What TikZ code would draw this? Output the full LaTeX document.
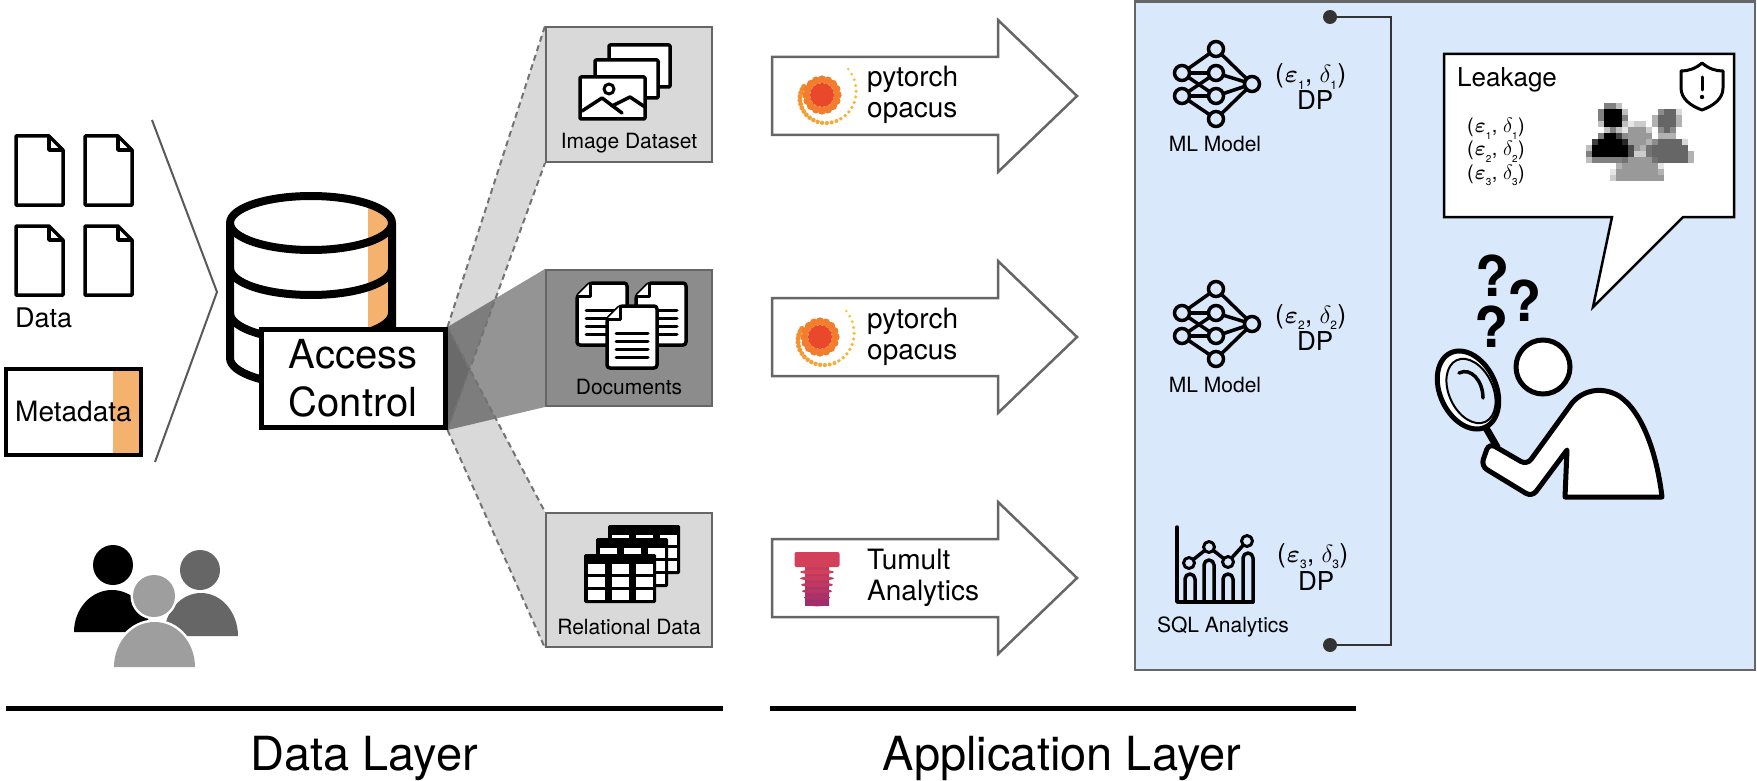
\documentclass[tikz,border=0pt]{standalone}
\usepackage{fontspec}
\setmainfont{TeX Gyre Heros}
\usepackage{bm}
\usetikzlibrary{calc}

\pgfdeclarelayer{canvas}
\pgfdeclarelayer{fans}
\pgfsetlayers{canvas,fans,main}

\definecolor{panelblue}{HTML}{DAE8FC}
\definecolor{metaorange}{HTML}{F4B26E}
\definecolor{edgegray}{HTML}{666666}
\definecolor{boxlight}{HTML}{D9D9D9}
\definecolor{boxdark}{HTML}{8C8C8C}
\definecolor{persondark}{HTML}{666666}
\definecolor{personlight}{HTML}{9E9E9E}
\definecolor{opred}{HTML}{E9482A}
\definecolor{opring}{HTML}{F27D2C}
\definecolor{opinner}{HTML}{F28A2E}
\definecolor{opyellow}{HTML}{F8CB40}
\definecolor{tumtop}{HTML}{D2405A}
\definecolor{tumbot}{HTML}{9A2C6E}
\definecolor{bracketgray}{HTML}{333333}

\newcommand\fsz[1]{\fontsize{#1}{#1}\selectfont}
% (epsilon, delta) pair with dropped subscripts; optional arg = subscript size
\newcommand\lowsub[2]{\raisebox{-3pt}{\fontsize{#1}{#1}\selectfont #2}}
\newcommand\epsdelta[2][12]{(\kern1pt$\bm{\varepsilon}_{\lowsub{#1}{#2}}$, $\delta_{\lowsub{#1}{#2}}$)}

\tikzset{
  datafile/.pic={
    \filldraw[fill=white, line width=3.5, line join=round]
      (0,0) -- (33,0) -- (47,14) -- (47,69) -- (0,69) -- cycle;
    \draw[line width=3.5, line join=round] (33,0) -- (33,14) -- (47,14);
  },
  docsheet/.pic={
    \filldraw[fill=white, line width=3.5, line join=round, rounded corners=3]
      (13,0) -- (50,0) -- (50,62) -- (0,62) -- (0,13) -- cycle;
    \filldraw[fill=white, line width=3, line join=round] (0,13) -- (13,13) -- (13,0);
    \foreach \yy in {27,35,43,51} \draw[line width=3, line cap=round] (9,\yy) -- (41,\yy);
  },
  tablecard/.pic={
    \fill[black, rounded corners=1.5] (0,0) rectangle (72,49);
    \foreach \cx in {4,28,52} \foreach \cy in {10,23,36}
      \fill[white] (\cx,\cy) rectangle ++(17,9.5);
  },
  bigarrow/.pic={
    \draw[draw=edgegray, line width=2.5, fill=white, line join=miter]
      (0,-39) -- (226,-39) -- (226,-76) -- (305,0) -- (226,76) -- (226,39) -- (0,39) -- cycle;
  },
  opacuslogo/.pic={
    \foreach \k in {0,...,26}{
      \pgfmathsetmacro\spa{205-9.6*\k}
      \pgfmathsetmacro\spr{20+0.65*\k}
      \pgfmathsetmacro\sps{2.7-0.045*\k}
      \pgfmathsetmacro\spm{100-3.7*\k}
      \fill[opinner!\spm!opyellow] (\spa:\spr) circle[radius=\sps];
    }
    \foreach \a in {0,22.5,...,337.5} \fill[opring] (\a:15.5) circle[radius=4.2];
    \fill[opred] (0,0) circle[radius=12];
  },
  tumultlogo/.pic={
    \shade[top color=tumtop!80!tumbot, bottom color=tumbot] (-12,14) rectangle (12,53);
    \foreach \k/\w in {0/17,1/17,2/16,3/15,4/13,5/11}{
      \pgfmathsetmacro\tmix{100-17*\k}
      \fill[tumtop!\tmix!tumbot] (0,20+6.4*\k) ellipse[x radius=\w, y radius=2.3];
    }
    \fill[tumtop, rounded corners=2] (-22.5,0) rectangle (22.5,15);
  },
  nnicon/.pic={
    \foreach \xa/\ya/\xb/\yb in {0/0/-34/24, 0/0/36/35, -34/24/0/24, -34/24/0/47,
        -34/47/0/24, -34/47/0/47, -34/47/0/70, 0/70/36/35, 0/24/36/35, 0/47/36/35}
      \draw[line width=3.5] (\xa,\ya) -- (\xb,\yb);
    \foreach \xa/\ya in {0/0,-34/24,-34/47,0/24,0/47,0/70,36/35}
      \filldraw[fill=panelblue, line width=3.5] (\xa,\ya) circle[radius=7.5];
  },
}

\begin{document}
\begin{tikzpicture}[x=1pt, y=-1pt,
  declare function={
    sqd(\p,\q)=(\p)*(\p)+(\q)*(\q);
    inbk(\p,\q)=or(sqd(\p-11.3,\q-56.5)<4.0,and(\q<63.2,sqd((\p-11.2)/3.8,(\q-63.2)/4.2)<1));
    indk(\p,\q)=or(sqd(\p-20.0,\q-57.0)<4.0,and(\q<63.6,sqd((\p-20.1)/3.7,(\q-63.6)/4.3)<1));
    inlt(\p,\q)=or(sqd(\p-15.4,\q-59.6)<4.41,and(\q<66.7,sqd((\p-15.45)/4.05,(\q-66.7)/4.5)<1));
    gv(\p,\q)=ifthenelse(inlt(\p,\q),0.6,ifthenelse(inbk(\p,\q),0,ifthenelse(indk(\p,\q),0.4,1)));
  },
  databox/.style={draw=edgegray, line width=2, minimum width=166, inner sep=0},
  boxlabel/.style={font=\fsz{21}, inner sep=0},
  fanlight/.style={fill=black, fill opacity=0.15},
  fandark/.style={fill=black, fill opacity=0.42},
  fanedge/.style={draw=black!55, line width=2, dash pattern=on 6pt off 4pt},
  tooltext/.style={font=\fsz{28}, anchor=base west, inner sep=0},
  dptext/.style={font=\fsz{26}, anchor=base west, inner sep=0},
  iconlabel/.style={font=\fsz{21}, anchor=base, inner sep=0},
  layerlabel/.style={font=\fsz{47}, anchor=base, inner sep=0},
]
\useasboundingbox (0,0) rectangle (1757,781);
\begin{pgfonlayer}{canvas}
  \fill[white] (0,0) rectangle (1757,781);
\end{pgfonlayer}

% ---------------- data sources ----------------
\foreach \dx/\dy in {16/136, 85/136, 16/226, 85/226}
  \pic at (\dx,\dy) {datafile};
\node[anchor=base west, inner sep=0, font=\fsz{27}] (datalbl) at (15,327) {Data};

\fill[white] (6,369) rectangle (141,455);
\fill[metaorange] (113,369) rectangle (141,455);
\node[draw, line width=4, minimum width=135, minimum height=86, inner sep=0] (meta) at (73.5,412) {};
\node[anchor=west, inner sep=0, font=\fsz{28}] (metalbl) at (15,412) {Metadata};

\draw[black!65, line width=2] (152,120) -- (217,292) -- (155,462);

% ---------------- database cylinder ----------------
\fill[white] (230,223) -- (230,358) arc[start angle=180, end angle=0, x radius=81, y radius=27]
  -- (392,223) arc[start angle=0, end angle=-180, x radius=81, y radius=27] -- cycle;
\begin{scope}
  \clip (230,223) -- (230,358) arc[start angle=180, end angle=0, x radius=81, y radius=27]
    -- (392,223) arc[start angle=0, end angle=-180, x radius=81, y radius=27] -- cycle;
  \fill[metaorange] (368,180) rectangle (400,400);
\end{scope}
\begin{scope}[line width=8, line join=round]
  \draw (230,223) -- (230,358) arc[start angle=180, end angle=0, x radius=81, y radius=27] -- (392,223);
  \draw (311,223) ellipse[x radius=81, y radius=27];
  \draw (230,268) arc[start angle=180, end angle=0, x radius=81, y radius=27];
  \draw (230,313) arc[start angle=180, end angle=0, x radius=81, y radius=27];
\end{scope}
\node[draw, line width=5, fill=white, minimum width=184, minimum height=98, inner sep=0,
  align=center, font=\fontsize{40}{48}\selectfont] (ac) at (353,378.5) {Access\\Control};

% ---------------- data stores ----------------
\node[databox, fill=boxlight, minimum height=135] (imgbox) at (629,94.5) {};
\node[databox, fill=boxdark, minimum height=136] (docbox) at (629,338) {};
\node[databox, fill=boxlight, minimum height=134] (relbox) at (629,580) {};

\begin{pgfonlayer}{fans}
  \fill[fanlight] (ac.north east) -- (imgbox.north west) -- (imgbox.south west) -- (ac.south east) -- cycle;
  \fill[fandark] (ac.north east) -- (docbox.north west) -- (docbox.south west) -- (ac.south east) -- cycle;
  \fill[fanlight] (ac.north east) -- (relbox.north west) -- (relbox.south west) -- (ac.south east) -- cycle;
  \draw[fanedge] (ac.north east) -- (imgbox.north west);
  \draw[fanedge] (ac.south east) -- (imgbox.south west);
  \draw[fanedge] (ac.north east) -- (relbox.north west);
  \draw[fanedge] (ac.south east) -- (relbox.south west);
\end{pgfonlayer}

% image stack icon
\begin{scope}[line width=3.5, line join=round, line cap=round]
  \filldraw[fill=white, rounded corners=1] (609,45) rectangle (670,87);
  \filldraw[fill=white, rounded corners=1] (595,60) rectangle (658,98);
  \filldraw[fill=white, rounded corners=1] (580,77) rectangle (645,119);
  \draw[line width=3] (609,89) circle[radius=5];
  \draw (582,111) -- (602,98) -- (622,113);
  \draw (612,106) -- (630,97) -- (645,107);
\end{scope}
\node[boxlabel] (imglbl) at (629,143) {Image Dataset};

% documents icon
\pic at (577,283) {docsheet};
\pic at (636,283) {docsheet};
\pic at (607,306) {docsheet};
\node[boxlabel] (doclbl) at (629,387) {Documents};

% relational tables icon
\pic at (608,525) {tablecard};
\pic at (596,538) {tablecard};
\pic at (584,554) {tablecard};
\node[boxlabel] (rellbl) at (629,627) {Relational Data};

% users
\fill[black] (113,565) circle[radius=20];
\fill[black] (74,632) arc[start angle=180, end angle=360, x radius=38, y radius=42] -- cycle;
\fill[persondark] (200,570) circle[radius=20];
\fill[persondark] (164,636) arc[start angle=180, end angle=360, x radius=37, y radius=43] -- cycle;
\draw[white, line width=5] (154,596) circle[radius=21];
\draw[white, line width=5] (114,667) arc[start angle=180, end angle=360, x radius=40.5, y radius=45] -- cycle;
\fill[personlight] (154,596) circle[radius=21];
\fill[personlight] (114,667) arc[start angle=180, end angle=360, x radius=40.5, y radius=45] -- cycle;

% ---------------- privacy tooling arrows ----------------
\pic at (772,96) {bigarrow};
\pic at (772,337) {bigarrow};
\pic at (772,578) {bigarrow};
\pic at (822,95) {opacuslogo};
\pic at (820,337) {opacuslogo};
\pic at (817,552) {tumultlogo};
\node[tooltext] (py1) at (867,87) {pytorch};
\node[tooltext] (op1) at (867,118) {opacus};
\node[tooltext] (py2) at (867,328) {pytorch};
\node[tooltext] (op2) at (867,359) {opacus};
\node[tooltext] (tu3) at (867,569) {Tumult};
\node[tooltext] (an3) at (867,600) {Analytics};

% ---------------- application panel ----------------
\draw[fill=panelblue, draw=edgegray, line width=2.5] (1135,1.5) rectangle (1755,670);

\pic at (1216,49) {nnicon};
\node[iconlabel] (ml1) at (1215,152) {ML Model};
\node[dptext] (eps1) at (1275,83) {\epsdelta{1}};
\node[dptext] (dp1) at (1297,110) {DP};

\pic at (1216,289) {nnicon};
\node[iconlabel] (ml2) at (1215,392) {ML Model};
\node[dptext] (eps2) at (1275,323) {\epsdelta{2}};
\node[dptext] (dp2) at (1297,350) {DP};

% analytics chart icon
\begin{scope}[line width=3.5, line join=round, line cap=round]
  \draw (1177,527) -- (1177,602) -- (1253,602);
  \foreach \bx/\bt in {1185/574, 1204/560, 1223/574, 1243/553}
    \draw (\bx,602) -- (\bx,\bt+5) arc[start angle=180, end angle=360, radius=5] -- (\bx+10,602);
  \draw (1189,563) -- (1209,547) -- (1228,562) -- (1247,541);
  \foreach \px/\py in {1189/563, 1209/547, 1228/562, 1247/541}
    \filldraw[fill=panelblue, line width=3] (\px,\py) circle[radius=5.5];
\end{scope}
\node[iconlabel] (sql) at (1223,632) {SQL Analytics};
\node[dptext] (eps3) at (1277,562) {\epsdelta{3}};
\node[dptext] (dp3) at (1298,590) {DP};

% composition bracket
\coordinate (brtop) at (1330,17);
\coordinate (brbot) at (1330,645);
\draw[bracketgray, line width=2.5] (brtop) -- (1391,17) -- (1391,645) -- (brbot);
\fill[bracketgray] (brtop) circle[radius=7];
\fill[bracketgray] (brbot) circle[radius=7];

% ---------------- leakage bubble ----------------
\filldraw[fill=white, line width=2.5, line join=miter]
  (1444,54) -- (1734,54) -- (1734,217) -- (1683,217) -- (1593,307) -- (1612,217) -- (1444,217) -- cycle;
\node[anchor=base west, inner sep=0, font=\fsz{26}] (leak) at (1457,87) {Leakage};
\node[anchor=base west, inner sep=0, font=\fsz{20}] (l1) at (1467,133) {\epsdelta[10]{1}};
\node[anchor=base west, inner sep=0, font=\fsz{20}] (l2) at (1467,156) {\epsdelta[10]{2}};
\node[anchor=base west, inner sep=0, font=\fsz{20}] (l3) at (1467,179) {\epsdelta[10]{3}};

% warning shield
\begin{scope}[shift={(1702,86)}, line width=3, line join=round]
  \draw (0,-23) .. controls (-7,-17) and (-14,-15) .. (-21,-15) -- (-21,2)
    .. controls (-21,13) and (-11,20) .. (0,24) .. controls (11,20) and (21,13) .. (21,2)
    -- (21,-15) .. controls (14,-15) and (7,-17) .. (0,-23) -- cycle;
  \draw[line cap=round] (0,-9) -- (0,4);
  \fill (0,11) circle[radius=2.2];
\end{scope}

% anonymised (pixelated) users: each 6px cell takes the mean of 2x2 samples
\foreach \i in {0,...,17}{
  \foreach \j in {0,...,13}{
    \pgfmathsetmacro\ua{7.4+(6*\i-0.5)/6.3}
    \pgfmathsetmacro\ub{7.4+(6*\i+2.5)/6.3}
    \pgfmathsetmacro\va{54.5+(6*\j-0.5)/6.3}
    \pgfmathsetmacro\vb{54.5+(6*\j+2.5)/6.3}
    \pgfmathsetmacro\gval{(gv(\ua,\va)+gv(\ub,\va)+gv(\ua,\vb)+gv(\ub,\vb))/4}
    \pgfmathsetmacro\kval{100-100*\gval}
    \ifdim\kval pt>0.5pt
      \fill[black!\kval] (1586+6*\i,103+6*\j) rectangle ++(6.4,6.4);
    \fi
  }
}

% ---------------- analyst with magnifier ----------------
\node[font=\fontsize{56}{56}\selectfont\bfseries, inner sep=0] (q1) at (1493,276) {?};
\node[font=\fontsize{56}{56}\selectfont\bfseries, inner sep=0] (q2) at (1525,301) {?};
\node[font=\fontsize{56}{56}\selectfont\bfseries, inner sep=0] (q3) at (1492,327) {?};

\draw[line width=7, line cap=round] (1486,428) -- (1497,447);
\filldraw[fill=white, line width=5, rotate around={25:(1468,390)}] (1468,390) ellipse[x radius=28, y radius=41];
\filldraw[fill=panelblue, line width=2, rotate around={25:(1471,391)}] (1471,391) ellipse[x radius=22, y radius=34];
\draw[line width=3.5, line cap=round] (1459,373) .. controls (1471,367) and (1483,381) .. (1483,398);

\filldraw[fill=white, line width=5, line join=round]
  (1565,497) -- (1567,450)
  [rounded corners=7] -- (1532,497) -- (1481,466) -- (1489,443) -- (1527,465)
  [sharp corners] -- (1572,403)
  .. controls (1583,390) and (1602,386) .. (1619,396)
  .. controls (1643,412) and (1657,455) .. (1662,497) -- cycle;
\filldraw[fill=white, line width=5] (1543,367) circle[radius=27];

% ---------------- layer captions ----------------
\draw[line width=5] (6,708) -- (723,708);
\draw[line width=5] (770,708) -- (1356,708);
\node[layerlabel] (datalayer) at (364,770) {Data Layer};
\node[layerlabel] (applayer) at (1062,770) {Application Layer};
\end{tikzpicture}
\end{document}
